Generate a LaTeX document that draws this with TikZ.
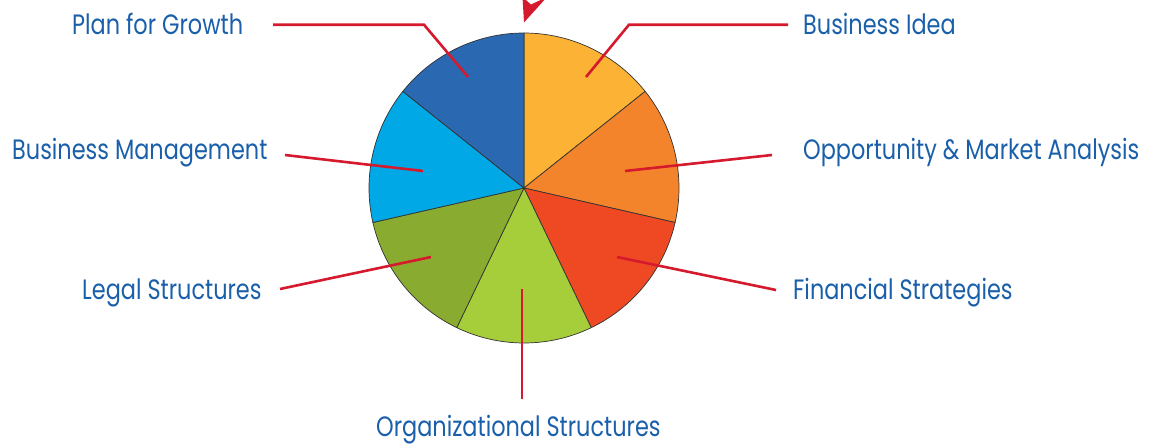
\documentclass[tikz,border=0pt]{standalone}
\usepackage{fontspec}
\setmainfont{Poppins}[FakeStretch=0.80]
\definecolor{txtblue}{HTML}{1A5FAA}
\definecolor{leadred}{HTML}{D51A2E}
\definecolor{cIdea}{HTML}{FBB235}
\definecolor{cOpp}{HTML}{F4842B}
\definecolor{cFin}{HTML}{EE4923}
\definecolor{cOrg}{HTML}{A6CE3A}
\definecolor{cLeg}{HTML}{89AC30}
\definecolor{cMan}{HTML}{00A8E6}
\definecolor{cGro}{HTML}{2A68B1}
\tikzset{
  lbl/.style={anchor=base west, inner sep=0pt, text=txtblue, font=\fontsize{28}{33}\selectfont},
  leader/.style={draw=leadred, line width=2.6pt, line join=miter},
  slice/.style={draw=black!80, line width=0.7pt, line join=round},
}
\begin{document}
\begin{tikzpicture}[x=1pt,y=-1pt]
\useasboundingbox (0,0) rectangle (1157,445);
\clip (0,0) rectangle (1157,445);
% pie
\coordinate (c) at (524,188);
\foreach \a/\b/\col in {90/38.5714/cIdea, 38.5714/-12.8571/cOpp, -12.8571/-64.2857/cFin, -64.2857/-115.7143/cOrg, -115.7143/-167.1429/cLeg, -167.1429/-218.5714/cMan, -218.5714/-270/cGro}{
  \path[slice, fill=\col] (c) -- ++(\a:155pt) arc[start angle=\a, end angle=\b, radius=155pt] -- cycle;
}
% labels
\node[lbl] (gro) at (72,34) {Plan for Growth};
\node[lbl] (idea) at (803,34) {Business Idea};
\node[lbl] (man) at (12,159) {Business Management};
\node[lbl] (opp) at (803,159) {Opportunity \& Market Analysis};
\node[lbl] (leg) at (82,299) {Legal Structures};
\node[lbl] (fin) at (793,299) {Financial Strategies};
\node[lbl] (org) at (376,436) {Organizational Structures};
% leader end points
\coordinate (groA) at (273,24.7);
\coordinate (groK) at (424,24.7);
\coordinate (groP) at (468,77);
\coordinate (ideaA) at (788,24.7);
\coordinate (ideaK) at (629,24.7);
\coordinate (ideaP) at (586,77);
\coordinate (manA) at (285,155);
\coordinate (manP) at (423,171);
\coordinate (oppA) at (772,155);
\coordinate (oppP) at (625,171);
\coordinate (legA) at (280,289);
\coordinate (legP) at (431,257);
\coordinate (finA) at (776,290);
\coordinate (finP) at (617,257);
\coordinate (orgA) at (522,399);
\coordinate (orgP) at (522,289);
\draw[leader] (groA) -- (groK) -- (groP);
\draw[leader] (ideaA) -- (ideaK) -- (ideaP);
\draw[leader] (manA) -- (manP);
\draw[leader] (oppA) -- (oppP);
\draw[leader] (legA) -- (legP);
\draw[leader] (finA) -- (finP);
\draw[leader] (orgA) -- (orgP);
% arrowhead at top
\fill[leadred] (524,22.5) -- (522.5,-3) -- (531,4.5) -- (547,-3) -- cycle;
\end{tikzpicture}
\end{document}
